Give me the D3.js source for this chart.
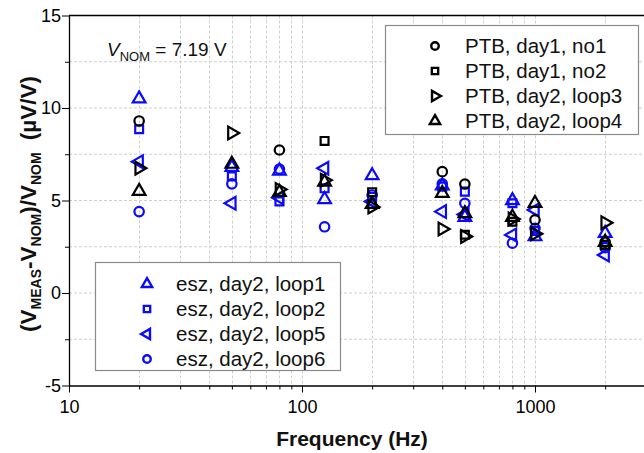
<!DOCTYPE html>
<html>
<head>
<meta charset="utf-8">
<script src="https://cdn.jsdelivr.net/npm/d3@7"></script>
<style>
  body { margin: 0; background: #fff; }
  svg { display: block; font-family: "Liberation Sans", Arial, sans-serif; }
</style>
</head>
<body>
<div id="chart"></div>
<script>
// frequencies (Hz) and the deviation values (uV/V)
const freqs = [20, 50, 80, 125, 200, 400, 500, 800, 1000, 2000];

const ptbNo1   = [9.3, null, 7.73, null, null, 6.56, 5.89, null, 3.95, 2.75];
const ptbNo2   = [null, null, null, 8.22, 5.45, null, 3.15, 3.85, null, 2.6];
const ptbLoop3 = [6.75, 8.65, 5.6, 6.1, 4.65, 3.46, 3.05, 4.0, 3.2, 3.8];
const ptbLoop4 = [5.5, 6.97, 5.45, 6.0, 4.8, 5.39, 4.3, 4.1, 4.85, 2.75];

const eszLoop1 = [10.5, 6.8, 6.6, 5.06, 6.35, 5.8, 4.1, 5.0, 3.05, 3.23];
const eszLoop2 = [8.85, 6.3, 4.95, 5.66, 5.2, 5.75, 5.48, 4.85, 3.35, 2.55];
const eszLoop5 = [7.1, 4.85, 5.15, 6.74, 4.95, 4.4, 4.25, 3.14, 4.49, 2.05];
const eszLoop6 = [4.4, 5.9, 6.7, 3.58, 5.3, 5.9, 4.85, 2.69, 3.5, 2.45];

const yTicks = [-5, 0, 5, 10, 15];
const xTickLabels = [10, 100, 1000];

const blue = "#0a0aff";

// series: shape + colour
const ptbSeries = [
  { name: "PTB, day1, no1", values: ptbNo1, shape: "circle", color: "#000" },
  { name: "PTB, day1, no2", values: ptbNo2, shape: "square", color: "#000" },
  { name: "PTB, day2, loop3", values: ptbLoop3, shape: "right", color: "#000" },
  { name: "PTB, day2, loop4", values: ptbLoop4, shape: "up", color: "#000" }
];
const eszSeries = [
  { name: "esz, day2, loop1", values: eszLoop1, shape: "up", color: blue },
  { name: "esz, day2, loop2", values: eszLoop2, shape: "square", color: blue },
  { name: "esz, day2, loop5", values: eszLoop5, shape: "left", color: blue },
  { name: "esz, day2, loop6", values: eszLoop6, shape: "circle", color: blue }
];

const width = 644,
  height = 453;

const svg = d3.select("#chart").append("svg").attr("width", width).attr("height", height);

const x = d3.scaleLog().domain([10, 10000]).range([69, 768]);
const y = d3.scaleLinear().domain([-5, 15]).range([385.5, 15.5]);

// marker path generator
function marker(shape, size) {
  const types = { circle: d3.symbolCircle, square: d3.symbolSquare, up: d3.symbolTriangle, left: d3.symbolTriangle, right: d3.symbolTriangle };
  return d3.symbol().type(types[shape]).size(size)();
}
function rot(shape) {
  return shape === "left" ? -90 : shape === "right" ? 90 : 0;
}

// grid lines
const gridX = [];
[10, 100, 1000].forEach(d => { for (let k = 1; k <= 9; k++) gridX.push(d * k); });
const grid = svg.append("g").attr("stroke", "#cfcfcf").attr("stroke-dasharray", "3,2").attr("stroke-width", 1);
grid.selectAll(".gx")
  .data(gridX.filter(d => d > 10))
  .join("line")
  .attr("x1", d => Math.round(x(d)) + 0.5).attr("x2", d => Math.round(x(d)) + 0.5)
  .attr("y1", y(15)).attr("y2", y(-5));
grid.selectAll(".gy")
  .data(d3.range(-2.5, 15, 2.5))
  .join("line")
  .attr("x1", x(10)).attr("x2", width)
  .attr("y1", d => y(d)).attr("y2", d => y(d));

// axes
const xAxis = d3.axisBottom(x)
  .tickValues(gridX.concat([10000]).filter(d => d >= 10))
  .tickFormat(d => xTickLabels.includes(d) ? d : "")
  .tickSizeOuter(0);
const gx = svg.append("g").attr("transform", `translate(0,${y(-5)})`).call(xAxis);
gx.select(".domain").attr("stroke", "#000").attr("stroke-width", 1.3);
gx.selectAll(".tick line").attr("stroke", "#000").attr("y2", d => xTickLabels.includes(d) ? 7 : 4);
gx.selectAll(".tick text").attr("font-size", 18).attr("font-family", "Liberation Sans, Arial").attr("fill", "#000").attr("dy", "1.05em");

const yAxis = d3.axisLeft(y).tickValues(d3.range(-5, 15.1, 2.5))
  .tickFormat(d => yTicks.includes(d) ? d : "")
  .tickSizeOuter(0);
const gy = svg.append("g").attr("transform", `translate(${x(10)},0)`).call(yAxis);
gy.select(".domain").attr("stroke", "#000").attr("stroke-width", 1.3);
gy.selectAll(".tick line").attr("stroke", "#000").attr("x2", d => yTicks.includes(d) ? -7 : -4);
gy.selectAll(".tick text").attr("font-size", 18).attr("font-family", "Liberation Sans, Arial").attr("fill", "#000").attr("x", -8);

// top frame line
svg.append("line").attr("x1", x(10)).attr("x2", width).attr("y1", y(15)).attr("y2", y(15))
  .attr("stroke", "#000").attr("stroke-width", 1.3);

// data points: blue first, black on top
const pts = svg.append("g").attr("fill", "none").attr("stroke-width", 2.2);
eszSeries.concat(ptbSeries).forEach(s => {
  pts.selectAll(null)
    .data(freqs.map((f, i) => [f, s.values[i]]).filter(d => d[1] !== null))
    .join("path")
    .attr("d", marker(s.shape, s.shape === "circle" ? 70 : s.shape === "square" ? 62 : 70))
    .attr("transform", d => `translate(${x(d[0])},${y(d[1])}) rotate(${rot(s.shape)})`)
    .attr("stroke", s.color);
});

// legends
function legend(series, bx, by, bw, bh, mx, tx, ry) {
  const g = svg.append("g");
  g.append("rect").attr("x", bx + 0.5).attr("y", by + 0.5).attr("width", bw).attr("height", bh)
    .attr("fill", "#fff").attr("stroke", "#8a8a8a").attr("stroke-width", 1.2);
  series.forEach((s, i) => {
    g.append("path")
      .attr("d", marker(s.shape, s.shape === "circle" ? 44 : s.shape === "square" ? 40 : 46))
      .attr("transform", `translate(${mx},${ry + i * 25}) rotate(${rot(s.shape)})`)
      .attr("fill", "none").attr("stroke", s.color).attr("stroke-width", 2.4);
    g.append("text").attr("x", tx).attr("y", ry + i * 25 + 7).attr("font-size", 20.5)
      .attr("fill", "#111").text(s.name);
  });
}
legend(ptbSeries, 385, 25, 253, 109, 435, 465, 46);
legend(eszSeries, 95, 262, 245, 108, 147, 176, 284);

// nominal voltage note
const note = svg.append("text").attr("x", 107).attr("y", 56).attr("font-size", 19).attr("fill", "#111");
note.append("tspan").attr("font-style", "italic").text("V");
note.append("tspan").attr("font-size", 13).attr("dy", 5).text("NOM");
note.append("tspan").attr("dy", -5).text(" = 7.19 V");

// axis titles
svg.append("text").attr("x", 352).attr("y", 446).attr("text-anchor", "middle")
  .attr("font-size", 21).attr("font-weight", "bold").attr("fill", "#111").text("Frequency (Hz)");

const yl = svg.append("text").attr("transform", "translate(36,204) rotate(-90)").attr("text-anchor", "middle")
  .attr("font-size", 22.5).attr("font-weight", "bold").attr("fill", "#111");
yl.append("tspan").text("(V");
yl.append("tspan").attr("font-size", 14).attr("dy", 5).text("MEAS");
yl.append("tspan").attr("dy", -5).text("-V");
yl.append("tspan").attr("font-size", 14).attr("dy", 5).text("NOM");
yl.append("tspan").attr("dy", -5).text(")/V");
yl.append("tspan").attr("font-size", 14).attr("dy", 5).text("NOM");
yl.append("tspan").attr("dy", -5).attr("dx", 12).text("(µV/V)");
</script>
</body>
</html>
